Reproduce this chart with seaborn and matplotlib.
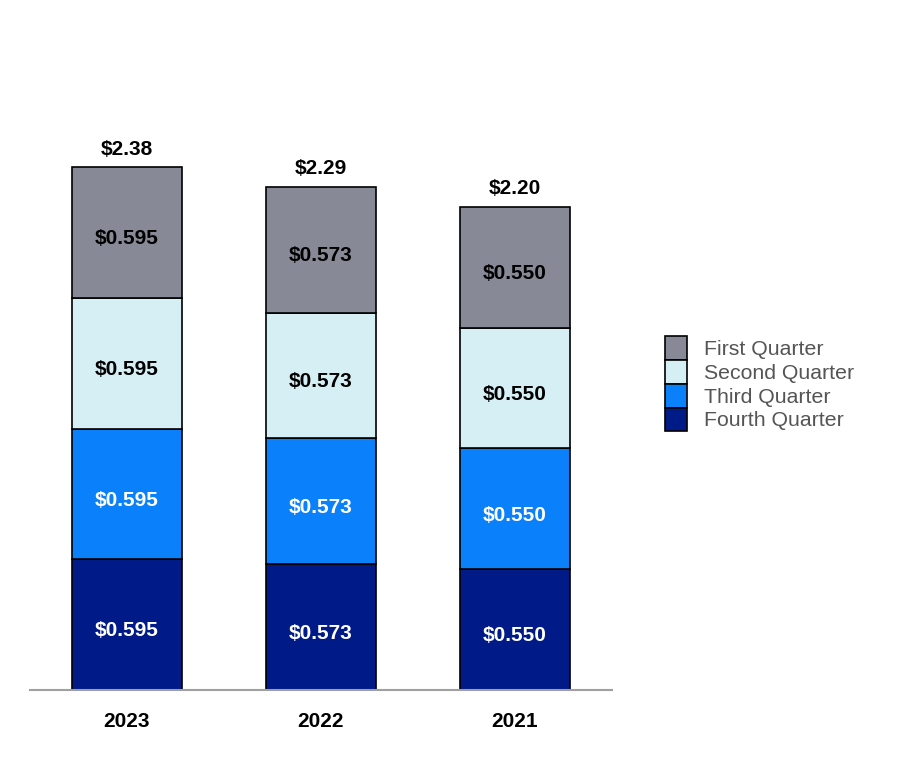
import seaborn as sns
import matplotlib.pyplot as plt
import pandas as pd
from matplotlib.patches import Patch

years = ['2023', '2022', '2021']
quarters = ['Fourth Quarter', 'Third Quarter', 'Second Quarter', 'First Quarter']
fourth = [0.595, 0.573, 0.550]
third = [0.595, 0.573, 0.550]
second = [0.595, 0.573, 0.550]
first = [0.595, 0.573, 0.550]
totals = ['$2.38', '$2.29', '$2.20']

colors = {'Fourth Quarter': '#001a87', 'Third Quarter': '#0a80fa',
          'Second Quarter': '#d5eff4', 'First Quarter': '#878a96'}
text_colors = {'Fourth Quarter': 'white', 'Third Quarter': 'white',
               'Second Quarter': 'black', 'First Quarter': 'black'}

df = pd.DataFrame({'year': years, 'Fourth Quarter': fourth, 'Third Quarter': third,
                   'Second Quarter': second, 'First Quarter': first})

sns.set_style('white')
plt.rcParams['font.family'] = ['Liberation Sans', 'DejaVu Sans']
plt.rcParams['text.color'] = 'black'
plt.rcParams['xtick.color'] = 'black'

fig = plt.figure(figsize=(9, 7.6), dpi=100)
ax = fig.add_axes([0.033, 0.092, 0.647, 0.867])

bottom = [0.0, 0.0, 0.0]
for q in quarters:
    sns.barplot(data=df, x='year', y=q, order=years, color=colors[q], bottom=bottom,
                width=0.567, edgecolor='black', linewidth=1.2, saturation=1, ax=ax)
    for i, v in enumerate(df[q]):
        ax.annotate(f'${v:.3f}', (i, bottom[i] + v / 2), xytext=(0, -3),
                    textcoords='offset points', ha='center', va='center_baseline',
                    fontsize=15, fontweight='bold', color=text_colors[q])
    bottom = [b + v for b, v in zip(bottom, df[q])]

for i, t in enumerate(totals):
    ax.annotate(t, (i, bottom[i]), xytext=(0, 14.5), textcoords='offset points',
                ha='center', va='center_baseline', fontsize=15, fontweight='bold',
                color='black')

ax.set_xlim(-0.5, 2.5)
ax.set_ylim(0, 3.0)
ax.set_xlabel('')
ax.set_ylabel('')
ax.set_yticks([])
for s in ['top', 'right', 'left']:
    ax.spines[s].set_visible(False)
ax.spines['bottom'].set_color('#a0a0a0')
ax.spines['bottom'].set_linewidth(1.5)
ax.tick_params(axis='x', length=0, pad=16)
for lbl in ax.get_xticklabels():
    lbl.set_fontweight('bold')
    lbl.set_fontsize(15)
    lbl.set_color('black')

handles = [Patch(facecolor=colors[q], edgecolor='black', linewidth=1.2)
           for q in ['First Quarter', 'Second Quarter', 'Third Quarter', 'Fourth Quarter']]
leg = fig.legend(handles, ['First Quarter', 'Second Quarter', 'Third Quarter', 'Fourth Quarter'],
                 loc='center left', bbox_to_anchor=(0.722, 0.495), frameon=False,
                 fontsize=15.3, handlelength=1.04, handleheight=1.34, labelspacing=0.0,
                 handletextpad=0.8, borderpad=0.2)
for t in leg.get_texts():
    t.set_color('#555555')

fig.savefig('out.png', dpi=100)
